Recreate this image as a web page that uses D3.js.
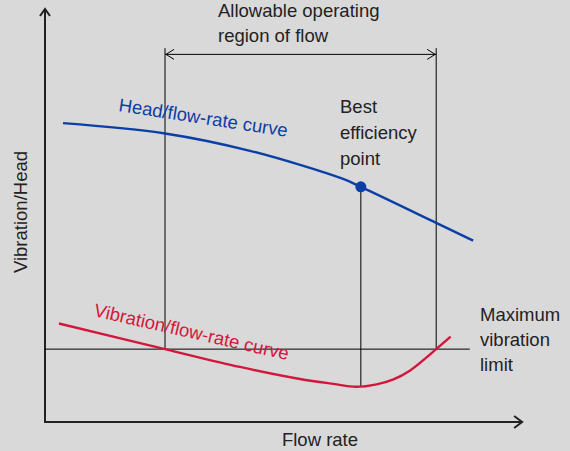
<!DOCTYPE html>
<html>
<head>
<meta charset="utf-8">
<script src="https://cdn.jsdelivr.net/npm/d3@7"></script>
<style>
  html, body { margin: 0; padding: 0; background: #d9d9d9; }
  svg { display: block; font-family: "Liberation Sans", Arial, sans-serif; }
</style>
</head>
<body>
<svg id="chart" width="570" height="451"></svg>
<script>
// curve samples, flow (0-100) vs relative value (0-100)
let headFlow = [3.75, 25, 42.7, 62.1, 65.8, 81.5, 89.2];
let headValue = [72.2, 69.7, 65.5, 58.7, 56.8, 48.1, 43.8];

let vibFlow = [2.9, 25, 40.6, 53.1, 60.1, 64.8, 69.1, 72.6, 76.0, 81.5, 84.5];
let vibValue = [23.8, 17.6, 13.3, 10.4, 9.2, 8.5, 9.1, 10.3, 12.4, 17.6, 20.6];

let regionFlow = [25, 81.5];   // allowable operating region
let bepFlow = 65.8;
let bepValue = 56.8;
let vibLimit = 17.6;

let svg = d3.select("#chart");

let x = d3.scaleLinear().domain([0, 100]).range([45, 525]);
let y = d3.scaleLinear().domain([0, 100]).range([422, 8]);

let blue = "#0b3fa6";
let red = "#d3173c";
let ink = "#222";
let fs = 18.5;

// axes
svg.append("line")
  .attr("x1", x(0)).attr("y1", y(0))
  .attr("x2", x(0)).attr("y2", y(100) + 1)
  .attr("stroke", ink).attr("stroke-width", 2);
svg.append("line")
  .attr("x1", x(0) - 1).attr("y1", y(0))
  .attr("x2", x(99.4)).attr("y2", y(0))
  .attr("stroke", ink).attr("stroke-width", 2);
svg.append("path")
  .attr("d", `M${x(0) - 5},${y(100) + 8} L${x(0)},${y(100) + 1} L${x(0) + 5},${y(100) + 8}`)
  .attr("fill", "none").attr("stroke", ink).attr("stroke-width", 2);
svg.append("path")
  .attr("d", `M${x(99.4) - 8},${y(0) - 6} L${x(99.4)},${y(0)} L${x(99.4) - 8},${y(0) + 6}`)
  .attr("fill", "none").attr("stroke", ink).attr("stroke-width", 2);

// allowable region verticals
let topY = y(90.3);
regionFlow.forEach(function (f) {
  svg.append("line")
    .attr("x1", x(f)).attr("x2", x(f))
    .attr("y1", topY).attr("y2", y(vibLimit))
    .attr("stroke", "#000").attr("stroke-width", 1);
});

// double arrow
let arrowY = y(88.8);
svg.append("line")
  .attr("x1", x(regionFlow[0])).attr("x2", x(regionFlow[1]))
  .attr("y1", arrowY).attr("y2", arrowY)
  .attr("stroke", "#000").attr("stroke-width", 1);
svg.append("path")
  .attr("d", `M${x(regionFlow[0]) + 9},${arrowY - 5} L${x(regionFlow[0]) + 1},${arrowY} L${x(regionFlow[0]) + 9},${arrowY + 5}`)
  .attr("fill", "none").attr("stroke", "#000").attr("stroke-width", 1);
svg.append("path")
  .attr("d", `M${x(regionFlow[1]) - 9},${arrowY - 5} L${x(regionFlow[1]) - 1},${arrowY} L${x(regionFlow[1]) - 9},${arrowY + 5}`)
  .attr("fill", "none").attr("stroke", "#000").attr("stroke-width", 1);

// vibration limit line
svg.append("line")
  .attr("x1", x(0)).attr("x2", x(88.5))
  .attr("y1", y(vibLimit)).attr("y2", y(vibLimit))
  .attr("stroke", "#000").attr("stroke-width", 1);

// BEP vertical
svg.append("line")
  .attr("x1", x(bepFlow)).attr("x2", x(bepFlow))
  .attr("y1", y(bepValue)).attr("y2", y(8.5))
  .attr("stroke", "#000").attr("stroke-width", 1);

let line = d3.line()
  .x(function (d) { return x(d[0]); })
  .y(function (d) { return y(d[1]); })
  .curve(d3.curveCatmullRom.alpha(0.5));

svg.append("path")
  .datum(d3.zip(headFlow, headValue))
  .attr("d", line)
  .attr("fill", "none").attr("stroke", blue).attr("stroke-width", 2.4);

svg.append("path")
  .datum(d3.zip(vibFlow, vibValue))
  .attr("d", line)
  .attr("fill", "none").attr("stroke", red).attr("stroke-width", 2.4);

svg.append("circle")
  .attr("cx", x(bepFlow)).attr("cy", y(bepValue))
  .attr("r", 5.5).attr("fill", blue);

// curve labels
svg.append("text")
  .attr("transform", "translate(118,111) rotate(8.7)")
  .attr("fill", blue).attr("font-size", fs)
  .text("Head/flow-rate curve");

svg.append("text")
  .attr("transform", "translate(93,316) rotate(12.8)")
  .attr("fill", red).attr("font-size", fs)
  .text("Vibration/flow-rate curve");

// annotation texts
function block(lines, px, py, lh) {
  let t = svg.append("text").attr("fill", ink).attr("font-size", fs);
  lines.forEach(function (s, i) {
    t.append("tspan").attr("x", px).attr("y", py + i * lh).text(s);
  });
}
block(["Allowable operating", "region of flow"], 218, 17, 25);
block(["Best", "efficiency", "point"], 340, 113, 26);
block(["Maximum", "vibration", "limit"], 480, 321, 25);

svg.append("text")
  .attr("x", 320).attr("y", 446)
  .attr("text-anchor", "middle")
  .attr("fill", ink).attr("font-size", fs)
  .text("Flow rate");

svg.append("text")
  .attr("transform", "translate(27,212) rotate(-90)")
  .attr("text-anchor", "middle")
  .attr("fill", ink).attr("font-size", fs)
  .text("Vibration/Head");
</script>
</body>
</html>
